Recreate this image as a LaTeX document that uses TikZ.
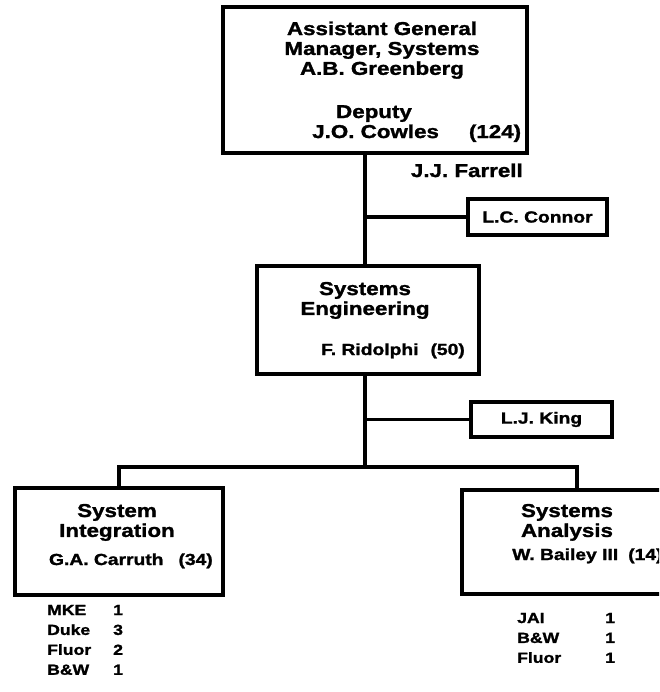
\documentclass[tikz,border=0pt]{standalone}
\usepackage{fontspec}
\setmainfont{Liberation Sans}[FakeStretch=1.2, BoldFeatures={FakeBold=1.5}]

\tikzset{
  unit/.style={draw, line width=3pt, inner sep=0pt},
  link/.style={line width=3pt},
  title/.style={inner sep=0pt, font=\bfseries\fontsize{15.9}{17}\selectfont},
  head/.style={inner sep=0pt, font=\bfseries\fontsize{13.7}{16}\selectfont},
  tally/.style={inner sep=0pt, font=\bfseries\fontsize{12.5}{17}\selectfont},
}

\begin{document}
\begin{tikzpicture}[x=0.3mm, y=-0.3mm]
\useasboundingbox (0,0) rectangle (659,692);
\clip (0,0) rectangle (659,692);
% boxes
\node[unit, minimum width=9.12cm, minimum height=4.38cm] (agm) at (375,80) {};
\node[title, anchor=base] (agmtitle) at (382,35) {\begin{tabular}[t]{@{}c@{}}Assistant General\\Manager, Systems\\A.B. Greenberg\end{tabular}};
\node[title, anchor=base] (deputy) at (374,118) {Deputy};
\node[title, anchor=base west] (cowles) at (312,138) {J.O. Cowles\hspace{0.9cm}(124)};
\node[title, anchor=base east] (farrell) at (523,177) {J.J. Farrell};
\node[unit, head, minimum width=4.17cm, minimum height=1.08cm] (connor) at (537.5,217) {L.C. Connor};
\node[unit, minimum width=6.66cm, minimum height=3.24cm] (syseng) at (368,320) {};
\node[title, anchor=base] (setitle) at (365,295) {\begin{tabular}[t]{@{}c@{}}Systems\\Engineering\end{tabular}};
\node[head, anchor=base east] (ridolphi) at (465,355) {F. Ridolphi\hspace{0.36cm}(50)};
\node[unit, head, minimum width=4.23cm, minimum height=1.05cm] (king) at (541.5,419.5) {L.J. King};
\node[unit, minimum width=6.24cm, minimum height=3.21cm] (sysint) at (119,541.5) {};
\node[title, anchor=base] (sititle) at (117,517) {\begin{tabular}[t]{@{}c@{}}System\\Integration\end{tabular}};
\node[head, anchor=base east] (carruth) at (213,565) {G.A. Carruth\hspace{0.45cm}(34)};
\node[unit, minimum width=6.24cm, minimum height=3.12cm] (sysana) at (566,542) {};
\node[title, anchor=base] (satitle) at (567,517) {\begin{tabular}[t]{@{}c@{}}Systems\\Analysis\end{tabular}};
\node[head, anchor=base west] (bailey) at (512,560) {W. Bailey III\hspace{0.3cm}(14)};
% staff lists
\node[tally, anchor=base west] (sistaff) at (47,615) {\begin{tabular}[t]{@{}p{1.98cm}@{}l@{}}MKE & 1\\Duke & 3\\Fluor & 2\\B\&W & 1\end{tabular}};
\node[tally, anchor=base west] (sastaff) at (517,623) {\begin{tabular}[t]{@{}p{2.64cm}@{}l@{}}JAI & 1\\B\&W & 1\\Fluor & 1\end{tabular}};
% lines
\coordinate (spine) at (365,217);
\coordinate (bus) at (365,467);
\draw[link] (agm.south -| spine) -- (syseng.north -| spine);
\draw[link] (connor.west -| spine) -- (connor.west);
\draw[link] (syseng.south -| bus) -- (bus);
\draw[link] (king.west -| bus) -- (king.west);
\draw[link] (sysint.north) |- (bus) -| ([xshift=0.33cm]sysana.north);
\end{tikzpicture}
\end{document}
